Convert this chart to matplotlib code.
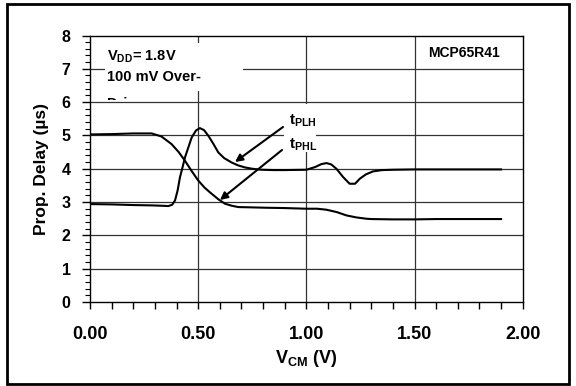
import matplotlib
matplotlib.use("Agg")
import matplotlib.pyplot as plt
from matplotlib.patches import Rectangle
from matplotlib.ticker import MultipleLocator

plt.rcParams['font.family'] = ['Liberation Sans', 'DejaVu Sans']
plt.rcParams['font.weight'] = 'bold'
plt.rcParams['mathtext.fontset'] = 'custom'
plt.rcParams['mathtext.rm'] = 'Liberation Sans:bold'
plt.rcParams['mathtext.bf'] = 'Liberation Sans:bold'
plt.rcParams['mathtext.it'] = 'Liberation Sans:bold'

# ---- data ----
vcm_phl = [0.0, 0.10, 0.20, 0.285, 0.33, 0.377, 0.41, 0.439, 0.47, 0.50, 0.53, 0.562,
           0.594, 0.624, 0.655, 0.685, 0.75, 0.81, 0.90, 1.00, 1.05, 1.093, 1.14, 1.185,
           1.23, 1.277, 1.30, 1.40, 1.50, 1.60, 1.70, 1.80, 1.90]
t_phl = [5.03, 5.04, 5.06, 5.06, 4.97, 4.74, 4.50, 4.24, 3.93, 3.65, 3.43, 3.25,
         3.08, 2.95, 2.89, 2.85, 2.84, 2.83, 2.82, 2.80, 2.80, 2.77, 2.70, 2.60,
         2.54, 2.50, 2.49, 2.48, 2.48, 2.49, 2.49, 2.49, 2.49]

vcm_plh = [0.0, 0.10, 0.20, 0.285, 0.33, 0.362, 0.38, 0.393, 0.405, 0.416, 0.428, 0.439,
           0.455, 0.47, 0.49, 0.508, 0.527, 0.547, 0.57, 0.593, 0.62, 0.654, 0.685, 0.716,
           0.75, 0.793, 0.85, 0.90, 1.00, 1.04, 1.07, 1.093, 1.115, 1.139, 1.17, 1.20,
           1.225, 1.247, 1.275, 1.308, 1.35, 1.40, 1.50, 1.60, 1.70, 1.80, 1.90]
t_plh = [2.94, 2.93, 2.91, 2.90, 2.89, 2.88, 2.92, 3.05, 3.35, 3.75, 4.05, 4.34,
         4.65, 4.94, 5.15, 5.22, 5.16, 4.99, 4.75, 4.49, 4.32, 4.19, 4.10, 4.04,
         4.00, 3.97, 3.96, 3.96, 3.97, 4.05, 4.14, 4.17, 4.13, 4.00, 3.75, 3.55,
         3.55, 3.70, 3.83, 3.92, 3.96, 3.97, 3.98, 3.98, 3.98, 3.98, 3.98]

x_ticks = [0.0, 0.5, 1.0, 1.5, 2.0]
x_ticklabels = ['0.00', '0.50', '1.00', '1.50', '2.00']
y_ticks = [0, 1, 2, 3, 4, 5, 6, 7, 8]

W, H = 576, 386
fig = plt.figure(figsize=(W / 100, H / 100), dpi=100)
fig.patch.set_facecolor('white')

# outer frame
fig.patches.append(Rectangle((7 / W, 1 - 384 / H), (569 - 7) / W, (384 - 4) / H,
                             transform=fig.transFigure, fill=False, lw=2,
                             edgecolor='black', zorder=0))

L, R, B, T = 90, 522.7, 302, 35.5
ax = fig.add_axes([L / W, 1 - B / H, (R - L) / W, (B - T) / H])
ax.set_xlim(0, 2.0)
ax.set_ylim(0, 8)

# grid
for yv in range(1, 8):
    ax.axhline(yv, color='#333333', lw=0.9, zorder=1)
for xv in [0.5, 1.0, 1.5]:
    ax.axvline(xv, color='#333333', lw=0.9, zorder=1)

ax.plot(vcm_phl, t_phl, color='black', lw=1.5, zorder=4)
ax.plot(vcm_plh, t_plh, color='black', lw=1.5, zorder=4)

for s in ax.spines.values():
    s.set_linewidth(1.0)
    s.set_color('black')

ax.set_xticks(x_ticks)
ax.set_xticklabels(x_ticklabels)
ax.xaxis.set_minor_locator(MultipleLocator(0.1))
ax.set_yticks(y_ticks)
ax.yaxis.set_minor_locator(MultipleLocator(0.2))
ax.tick_params(axis='x', which='both', direction='out', length=5, width=1,
               labelsize=13, pad=12)
ax.tick_params(axis='y', which='major', direction='out', length=6, width=1,
               labelsize=11.5, pad=8)
ax.tick_params(axis='y', which='minor', direction='out', length=3.5, width=0.8)
for lab in ax.get_xticklabels() + ax.get_yticklabels():
    lab.set_fontweight('bold')

ax.set_xlabel(r'$\mathbf{V}_{\mathbf{CM}}$ (V)', fontsize=13, fontweight='bold', labelpad=4)
ax.set_ylabel('Prop. Delay (µs)', fontsize=12.5, fontweight='bold', labelpad=9)

# text box (white, hides grid)
def px2data(px, py):
    return (px - L) / (R - L) * 2.0, (B - py) / (B - T) * 8.0

x0, y0 = px2data(105, 91)
x1, y1 = px2data(243, 43)
ax.add_patch(Rectangle((x0, y0), x1 - x0, y1 - y0, facecolor='white',
                       edgecolor='none', zorder=3))
clipx0, clipy0 = px2data(105, 100)
clip_rect = Rectangle((clipx0, clipy0), x1 - clipx0, y1 - clipy0,
                      transform=ax.transData, facecolor='none', edgecolor='none')
tx, ty = px2data(107, 57)
ax.text(tx, ty, r'$\mathbf{V}_{\mathbf{DD}}$= 1.8V', fontsize=10.5, fontweight='bold',
        va='center', ha='left', zorder=5)
tx, ty = px2data(107, 77)
ax.text(tx, ty, '100 mV Over-', fontsize=10.5, fontweight='bold',
        va='center', ha='left', zorder=5)
tx, ty = px2data(107, 103.5)
t3 = ax.text(tx, ty, 'Drive', fontsize=10.5, fontweight='bold',
             va='center', ha='left', zorder=5, clip_on=True)
t3.set_clip_path(clip_rect)

tx, ty = px2data(464, 53)
ax.text(tx, ty, 'MCP65R41', fontsize=10, fontweight='bold',
        va='center', ha='center', zorder=5)

# label box for curve names
lx0, ly0 = px2data(284, 152)
lx1, ly1 = px2data(316, 104)
ax.add_patch(Rectangle((lx0, ly0), lx1 - lx0, ly1 - ly0, facecolor='white',
                       edgecolor='none', zorder=3))
tx, ty = px2data(289, 121)
ax.text(tx, ty, r'$\mathbf{t}_{\mathbf{PLH}}$', fontsize=11, va='center', ha='left', zorder=5)
tx, ty = px2data(289, 145)
ax.text(tx, ty, r'$\mathbf{t}_{\mathbf{PHL}}$', fontsize=11, va='center', ha='left', zorder=5)

arrow_kw = dict(arrowstyle='-|>', lw=1.5, color='black', mutation_scale=11,
                shrinkA=0, shrinkB=0)
ax.annotate('', xy=px2data(235, 162), xytext=px2data(283, 127),
            arrowprops=arrow_kw, zorder=6)
ax.annotate('', xy=px2data(220, 200), xytext=px2data(282, 150),
            arrowprops=arrow_kw, zorder=6)

fig.savefig('out.png', dpi=100)
